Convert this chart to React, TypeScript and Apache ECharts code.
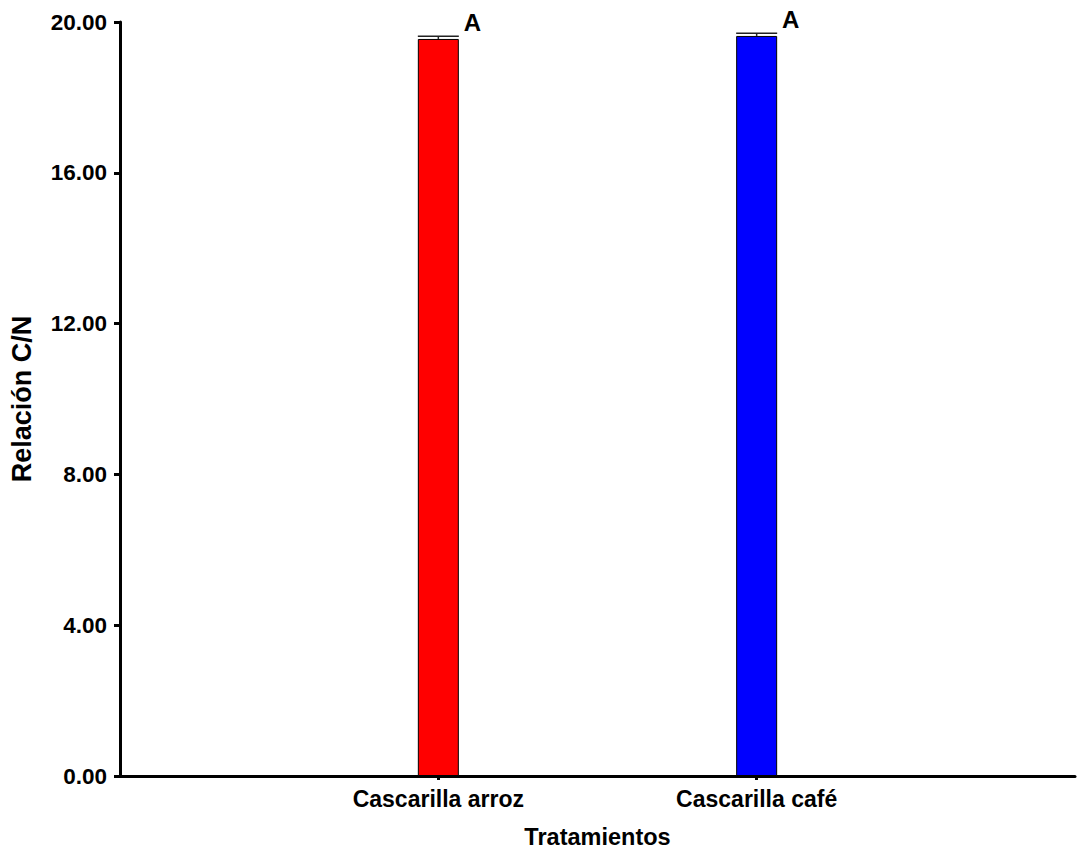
import React, { useEffect, useRef } from "react";
import * as echarts from "echarts";

const treatments = ["Cascarilla arroz", "Cascarilla café"];
const means = [19.55, 19.63];
const errors = [0.07, 0.07];
const letters = ["A", "A"];
const barColors = ["#ff0000", "#0000ff"];
const yTicks = { min: 0, max: 20, interval: 4 };

const FONT = "'Liberation Sans', Arial, sans-serif";

export default function App() {
  const ref = useRef<HTMLDivElement>(null);
  useEffect(() => {
    if (!ref.current) return;
    const chart = echarts.init(ref.current, null, { renderer: "svg" });
    const categories = ["", ...treatments, ""];
    const barData: any[] = ["-", ...means.map((v, i) => ({ value: v, itemStyle: { color: barColors[i] } })), "-"];
    const errData = means.map((m, i) => [i + 1, m, errors[i]]);
    chart.setOption({
      animation: false,
      backgroundColor: "#ffffff",
      textStyle: { fontFamily: FONT },
      grid: { left: 120, right: -4, top: 22, bottom: 80, containLabel: false },
      xAxis: {
        type: "category",
        data: categories,
        boundaryGap: false,
        name: "Tratamientos",
        nameLocation: "middle",
        nameGap: 49,
        nameTextStyle: { fontFamily: FONT, fontWeight: "bold", fontSize: 23.5, color: "#000" },
        axisLine: { show: true, lineStyle: { color: "#000", width: 3 } },
        axisTick: {
          show: true,
          interval: (index: number) => index === 1 || index === 2,
          length: 4,
          lineStyle: { color: "#000", width: 3 },
        },
        axisLabel: {
          interval: 0,
          margin: 11,
          fontFamily: FONT,
          fontWeight: "bold",
          fontSize: 23,
          color: "#000",
        },
        splitLine: { show: false },
      },
      yAxis: {
        type: "value",
        min: yTicks.min,
        max: yTicks.max,
        interval: yTicks.interval,
        name: "Relación C/N",
        nameLocation: "middle",
        nameGap: 85,
        nameRotate: 90,
        nameTextStyle: { fontFamily: FONT, fontWeight: "bold", fontSize: 27, color: "#000" },
        axisLine: { show: true, lineStyle: { color: "#000", width: 3 } },
        axisTick: { show: true, length: 6, lineStyle: { color: "#000", width: 3 } },
        axisLabel: {
          margin: 13,
          fontFamily: FONT,
          fontWeight: "bold",
          fontSize: 22.5,
          color: "#000",
          formatter: (v: number) => v.toFixed(2),
        },
        splitLine: { show: false },
      },
      series: [
        {
          type: "bar",
          data: barData,
          barWidth: 41,
          itemStyle: { borderColor: "#000", borderWidth: 1 },
          label: {
            show: true,
            position: "top",
            distance: 4,
            offset: [34, 0],
            fontFamily: FONT,
            fontWeight: "bold",
            fontSize: 24,
            color: "#000",
            formatter: (p: any) => letters[p.dataIndex - 1] ?? "",
          },
          z: 2,
        },
        {
          type: "custom",
          data: errData,
          encode: { x: 0, y: 1 },
          z: 3,
          renderItem: (params: any, api: any) => {
            const x = api.value(0);
            const m = api.value(1);
            const e = api.value(2);
            const p0 = api.coord([x, m]);
            const p1 = api.coord([x, m + e]);
            const hw = 20.5;
            return {
              type: "group",
              children: [
                {
                  type: "line",
                  shape: { x1: p0[0], y1: p0[1], x2: p1[0], y2: p1[1] },
                  style: { stroke: "#222", lineWidth: 1.5 },
                },
                {
                  type: "line",
                  shape: { x1: p1[0] - hw, y1: p1[1], x2: p1[0] + hw, y2: p1[1] },
                  style: { stroke: "#222", lineWidth: 1.5 },
                },
              ],
            };
          },
        },
      ],
    });
    return () => chart.dispose();
  }, []);
  return (
    <div
      ref={ref}
      style={{ position: "absolute", left: 0, top: 0, width: 1078, height: 856, background: "#fff" }}
    />
  );
}
